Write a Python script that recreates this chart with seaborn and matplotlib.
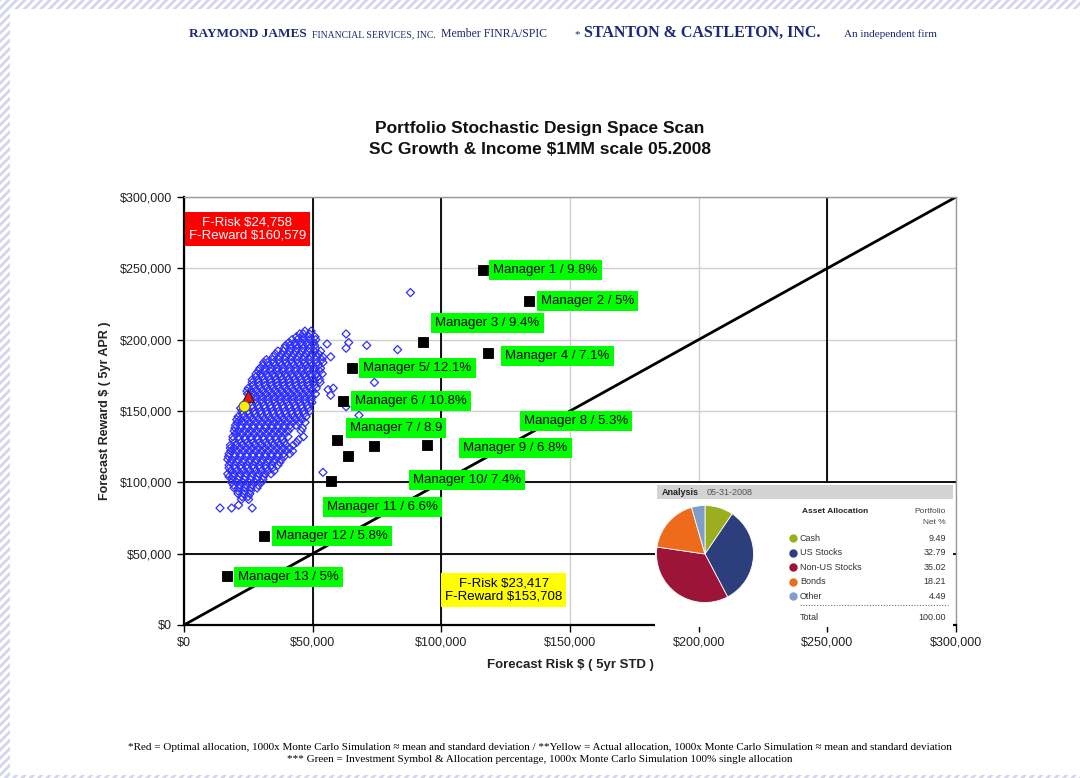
"""Portfolio stochastic design space scan (risk vs reward scatter)."""

import numpy as np
import pandas as pd
import matplotlib
matplotlib.use("Agg")
import matplotlib.pyplot as plt
import seaborn as sns
from matplotlib.patches import Rectangle
from matplotlib.lines import Line2D
from matplotlib.ticker import FuncFormatter


# ============================================================
# DATA (values in thousands of $ unless noted)
# ============================================================

# Monte Carlo cloud: (reward, [risks])
cloud_rows = [
    (206, [47.0, 49.4]),
    (204, [45.0, 46.4, 48.8]),
    (202, [43.7, 46.1, 48.5, 50.9]),
    (200, [42.0, 44.0, 46.4, 48.8, 51.2]),
    (198, [40.8, 43.2, 45.6, 48.0, 50.4]),
    (196, [39.5, 41.2, 43.6, 46.0, 48.4, 50.8]),
    (194, [39.0, 41.4, 43.8, 46.2, 48.6, 51.0]),
    (192, [36.5, 38.7, 41.1, 43.5, 45.9, 48.3, 50.7, 53.1]),
    (190, [35.5, 37.9, 40.3, 42.7, 45.1, 47.5, 49.9, 52.3]),
    (188, [34.7, 37.1, 39.5, 41.9, 44.3, 46.7, 49.1, 51.5, 53.9]),
    (186, [32.0, 34.4, 36.8, 39.2, 41.6, 44.0, 46.4, 48.8, 51.2, 53.6]),
    (184, [31.0, 32.4, 34.8, 37.2, 39.6, 42.0, 44.4, 46.8, 49.2, 51.6, 54.0]),
    (182, [30.7, 33.1, 35.5, 37.9, 40.3, 42.7, 45.1, 47.5, 49.9, 52.3]),
    (180, [29.5, 31.5, 33.9, 36.3, 38.7, 41.1, 43.5, 45.9, 48.3, 50.7, 53.1]),
    (178, [28.8, 31.2, 33.6, 36.0, 38.4, 40.8, 43.2, 45.6, 48.0, 50.4, 52.8]),
    (176, [28.0, 29.7, 32.1, 34.5, 36.9, 39.3, 41.7, 44.1, 46.5, 48.9, 51.3, 53.7]),
    (174, [28.0, 30.4, 32.8, 35.2, 37.6, 40.0, 42.4, 44.8, 47.2, 49.6, 52.0]),
    (172, [26.5, 28.7, 31.1, 33.5, 35.9, 38.3, 40.7, 43.1, 45.5, 47.9, 50.3, 52.7]),
    (170, [26.5, 28.9, 31.3, 33.7, 36.1, 38.5, 40.9, 43.3, 45.7, 48.1, 50.5, 52.9]),
    (168, [26.7, 29.1, 31.5, 33.9, 36.3, 38.7, 41.1, 43.5, 45.9, 48.3, 50.7]),
    (166, [25.0, 27.4, 29.8, 32.2, 34.6, 37.0, 39.4, 41.8, 44.2, 46.6, 49.0, 51.4]),
    (164, [24.5, 25.9, 28.3, 30.7, 33.1, 35.5, 37.9, 40.3, 42.7, 45.1, 47.5, 49.9]),
    (162, [24.7, 27.1, 29.5, 31.9, 34.3, 36.7, 39.1, 41.5, 43.9, 46.3, 48.7, 51.1]),
    (160, [26.0, 28.0, 30.4, 32.8, 35.2, 37.6, 40.0, 42.4, 44.8, 47.2, 49.6]),
    (158, [25.3, 27.7, 30.1, 32.5, 34.9, 37.3, 39.7, 42.1, 44.5, 46.9, 49.3]),
    (156, [24.0, 25.7, 28.1, 30.5, 32.9, 35.3, 37.7, 40.1, 42.5, 44.9, 47.3, 49.7]),
    (154, [24.0, 26.4, 28.8, 31.2, 33.6, 36.0, 38.4, 40.8, 43.2, 45.6, 48.0]),
    (152, [22.0, 24.2, 26.6, 29.0, 31.4, 33.8, 36.2, 38.6, 41.0, 43.4, 45.8, 48.2]),
    (150, [22.5, 24.9, 27.3, 29.7, 32.1, 34.5, 36.9, 39.3, 41.7, 44.1, 46.5, 48.9]),
    (148, [22.7, 25.1, 27.5, 29.9, 32.3, 34.7, 37.1, 39.5, 41.9, 44.3, 46.7]),
    (146, [21.0, 23.4, 25.8, 28.2, 30.6, 33.0, 35.4, 37.8, 40.2, 42.6, 45.0, 47.4]),
    (144, [20.5, 21.9, 24.3, 26.7, 29.1, 31.5, 33.9, 36.3, 38.7, 41.1, 43.5, 45.9]),
    (142, [20.7, 23.1, 25.5, 27.9, 30.3, 32.7, 35.1, 37.5, 39.9, 42.3, 44.7, 47.1]),
    (140, [20.0, 22.0, 24.4, 26.8, 29.2, 31.6, 34.0, 36.4, 38.8, 41.2, 43.6]),
    (138, [19.8, 22.2, 24.6, 27.0, 29.4, 31.8, 34.2, 36.6, 39.0, 41.4, 46.0]),
    (136, [19.5, 21.2, 23.6, 26.0, 28.4, 30.8, 33.2, 35.6, 38.0, 40.4, 45.5]),
    (134, [20.0, 22.4, 24.8, 27.2, 29.6, 32.0, 34.4, 36.8, 39.2]),
    (132, [19.0, 21.2, 23.6, 26.0, 28.4, 30.8, 33.2, 35.6, 38.0, 40.4, 46.4]),
    (130, [19.0, 21.4, 23.8, 26.2, 28.6, 31.0, 33.4, 35.8, 38.2, 44.6]),
    (128, [19.7, 22.1, 24.5, 26.9, 29.3, 31.7, 34.1, 36.5, 38.9, 43.8]),
    (126, [18.0, 20.4, 22.8, 25.2, 27.6, 30.0, 32.4, 34.8, 37.2, 39.6, 42.4]),
    (124, [18.0, 19.4, 21.8, 24.2, 26.6, 29.0, 31.4, 33.8, 36.2, 38.6, 41.0]),
    (122, [18.2, 20.6, 23.0, 25.4, 27.8, 30.2, 32.6, 35.0, 37.4, 39.8, 42.2]),
    (120, [17.5, 19.5, 21.9, 24.3, 26.7, 29.1, 31.5, 33.9, 36.3, 38.7, 41.1]),
    (118, [17.3, 19.7, 22.1, 24.5, 26.9, 29.3, 31.7, 34.1, 36.5, 38.9]),
    (116, [17.0, 18.7, 21.1, 23.5, 25.9, 28.3, 30.7, 33.1, 35.5, 37.9]),
    (114, [18.0, 20.4, 22.8, 25.2, 27.6, 30.0, 32.4, 34.8, 37.2]),
    (112, [17.5, 19.7, 22.1, 24.5, 26.9, 29.3, 31.7, 34.1, 36.5]),
    (110, [17.5, 19.9, 22.3, 24.7, 27.1, 29.5, 31.9, 34.3]),
    (108, [18.2, 20.6, 23.0, 25.4, 27.8, 30.2, 32.6, 35.0]),
    (106, [17.0, 19.4, 21.8, 24.2, 26.6, 29.0, 31.4, 33.8]),
    (104, [17.5, 18.9, 21.3, 23.7, 26.1, 28.5, 30.9]),
    (102, [18.7, 21.1, 23.5, 25.9, 28.3, 30.7]),
    (100, [18.5, 20.5, 22.9, 25.3, 27.7, 30.1]),
    (98, [19.3, 21.7, 24.1, 26.5, 28.9]),
    (96, [19.5, 21.2, 23.6, 26.0, 28.4]),
    (94, [21.0, 23.4, 25.8]),
    (92, [21.0, 23.2, 25.6]),
    (90, [22.5, 24.9]),
    (88, [22.3, 25.1]),
    (84, [21.2]),
    (82, [14, 18.5, 26.5]),
]

# stray simulation points outside the main cloud
outlier_risk = [88, 63, 64, 63, 71, 83, 55.6, 57, 74, 56, 58, 57, 63, 68, 54]
outlier_reward = [233, 204, 198, 194, 196, 193, 197, 188, 170, 165, 166, 161, 153, 147, 107]

manager_labels = [
    "Manager 1 / 9.8%", "Manager 2 / 5%", "Manager 3 / 9.4%", "Manager 4 / 7.1%",
    "Manager 5/ 12.1%", "Manager 6 / 10.8%", "Manager 7 / 8.9", "Manager 8 / 5.3%",
    "Manager 9 / 6.8%", "Manager 10/ 7.4%", "Manager 11 / 6.6%", "Manager 12 / 5.8%",
    "Manager 13 / 5%",
]
manager_risk = [116.3, 133.9, 93.0, 118.3, 65.4, 61.8, 59.5, 73.9, 94.6, 63.8, 57.2, 31.1, 16.7]
manager_reward = [248.8, 227.0, 198.3, 190.6, 180.0, 157.0, 129.6, 125.4, 126.1, 118.4, 100.9, 62.4, 34.3]

# optimal (red) and actual (yellow) allocations, in $
opt_risk, opt_reward = 24758, 160579
act_risk, act_reward = 23417, 153708

alloc_labels = ["Cash", "US Stocks", "Non-US Stocks", "Bonds", "Other"]
alloc_values = [9.49, 32.79, 35.02, 18.21, 4.49]
alloc_total = 100.00

tick_values = [0, 50000, 100000, 150000, 200000, 250000, 300000]

# ============================================================
# STYLE / LAYOUT
# ============================================================

alloc_colors = ["#9cad1e", "#2c3e7c", "#9c1438", "#ee6b1c", "#7f9dc9"]
# label offsets in pixels from each manager square (dx, dy-up)
label_offsets = [(10, 0), (12, 0), (12, 19), (17, -3), (11, 0), (12, 0), (13, 12),
                 (150, 25), (36, -3), (65, -24), (-4, -26), (12, 0), (11, -1)]

W, H = 1080, 778
navy = "#1c2878"
serif = ["Liberation Serif", "DejaVu Serif"]


def fx(px):
    return px / W


def fy(py):
    return 1 - py / H


sns.set_theme(style="white")
plt.rcParams["font.family"] = ["Liberation Sans", "DejaVu Sans"]
plt.rcParams["hatch.linewidth"] = 2.0

fig = plt.figure(figsize=(W / 100, H / 100), dpi=100)
fig.patch.set_facecolor("white")

# lavender hatched page border
for rect in [(0, fy(9), 1, 9 / H), (0, 0, 10 / W, 1), (0, 0, 1, 3 / H)]:
    fig.add_artist(Rectangle(rect[:2], rect[2], rect[3], transform=fig.transFigure,
                             fc="white", ec="#d4d4ee", hatch="////", lw=0))

# header line
header_parts = [
    (189, "RAYMOND JAMES", 9.5, "bold"),
    (312, "FINANCIAL SERVICES, INC.", 7, "normal"),
    (441, "Member FINRA/SPIC", 8.5, "normal"),
    (574, "*", 8, "normal"),
    (584, "STANTON & CASTLETON, INC.", 11.5, "bold"),
    (844, "An independent firm", 8, "normal"),
]
for px, txt, size, weight in header_parts:
    fig.text(fx(px), fy(37), txt, fontsize=size, weight=weight, family=serif,
             color=navy, va="baseline", ha="left")

fig.text(0.5, fy(128), "Portfolio Stochastic Design Space Scan", ha="center", va="center",
         fontsize=12.5, weight="bold", color="#111")
fig.text(0.5, fy(149), "SC Growth & Income $1MM scale 05.2008", ha="center", va="center",
         fontsize=12.5, weight="bold", color="#111")

# ============================================================
# MAIN SCATTER
# ============================================================

ax = fig.add_axes([fx(184), fy(625), (956 - 184) / W, (625 - 197) / H])

cloud_risk, cloud_reward = [], []
for reward, risks in cloud_rows:
    cloud_risk += risks
    cloud_reward += [reward] * len(risks)
cloud = pd.DataFrame({
    "risk": np.array(cloud_risk + outlier_risk) * 1000,
    "reward": np.array(cloud_reward + outlier_reward) * 1000,
})
managers = pd.DataFrame({
    "label": manager_labels,
    "risk": np.array(manager_risk) * 1000,
    "reward": np.array(manager_reward) * 1000,
})

ax.set_xlim(0, 300000)
ax.set_ylim(0, 300000)
ax.set_xticks(tick_values)
ax.set_yticks(tick_values)
ax.grid(True, color="#cfcfcf", lw=1)
ax.set_axisbelow(True)
for v in [50000, 100000, 250000]:
    ax.axvline(v, color="black", lw=1.3, zorder=1.5)
for v in [50000, 100000]:
    ax.axhline(v, color="black", lw=1.3, zorder=1.5)
ax.axline((0, 0), slope=1, color="black", lw=2, zorder=2)

sns.scatterplot(data=cloud, x="risk", y="reward", marker="D", s=17,
                facecolor="none", edgecolor="#2f2fff", linewidth=0.9, ax=ax, zorder=3)
sns.scatterplot(data=managers, x="risk", y="reward", marker="s", s=60,
                color="black", edgecolor="black", ax=ax, zorder=5)
sns.scatterplot(x=[opt_risk], y=[opt_reward], marker="^", s=70, color="#ee1111",
                edgecolor="#222", linewidth=0.8, ax=ax, zorder=6)
sns.scatterplot(x=[act_risk], y=[act_reward], marker="o", s=60, color="#ffee00",
                edgecolor="#555", linewidth=0.8, ax=ax, zorder=6)

for (i, row), (dx, dy) in zip(managers.iterrows(), label_offsets):
    ax.annotate(row["label"], (row["risk"], row["reward"]), xytext=(dx, dy),
                textcoords="offset pixels", ha="left", va="center", fontsize=9.5,
                color="black", zorder=7,
                bbox=dict(boxstyle="square,pad=0.3", fc="#00ff00", ec="none"))

ax.text(0.082, 0.925, f"F-Risk ${opt_risk:,}\nF-Reward ${opt_reward:,}",
        transform=ax.transAxes, ha="center", va="center", color="white",
        fontsize=9.5, linespacing=1.15, zorder=7,
        bbox=dict(boxstyle="square,pad=0.3", fc="#ff0000", ec="none"))
ax.text(0.414, 0.082, f"F-Risk ${act_risk:,}\nF-Reward ${act_reward:,}",
        transform=ax.transAxes, ha="center", va="center", color="black",
        fontsize=9.5, linespacing=1.15, zorder=7,
        bbox=dict(boxstyle="square,pad=0.3", fc="#ffff00", ec="none"))

money = FuncFormatter(lambda v, p: f"${v:,.0f}")
ax.xaxis.set_major_formatter(money)
ax.yaxis.set_major_formatter(money)
ax.tick_params(axis="both", direction="out", length=5, width=1, color="black",
               labelsize=9, labelcolor="#222", bottom=True, left=True)
for side in ["left", "bottom"]:
    ax.spines[side].set_color("black")
    ax.spines[side].set_linewidth(1.6)
for side in ["top", "right"]:
    ax.spines[side].set_color("#9a9a9a")
    ax.spines[side].set_linewidth(1)
ax.set_xlabel("Forecast Risk $ ( 5yr STD )", fontsize=9.5, weight="bold", color="#222", labelpad=7)
ax.set_ylabel("Forecast Reward $ ( 5yr APR )", fontsize=9, weight="bold", color="#222", labelpad=6)

# ============================================================
# ASSET ALLOCATION INSET
# ============================================================

panel = fig.add_axes([fx(655), fy(627), 298 / W, 144 / H], zorder=10)
panel.set_xlim(655, 953)
panel.set_ylim(627, 483)
panel.axis("off")
panel.add_patch(Rectangle((655, 483), 298, 144, fc="white", ec="none"))
panel.add_patch(Rectangle((657, 485), 296, 14, fc="#d3d3d3", ec="none"))
panel.text(662, 492, "Analysis", weight="bold", fontsize=6.5, va="center", color="#222")
panel.text(707, 492, "05-31-2008", fontsize=6.5, va="center", color="#555")
panel.text(802, 511, "Asset Allocation", weight="bold", fontsize=6, va="center", color="#222")
panel.text(946, 511, "Portfolio", fontsize=6, va="center", ha="right", color="#444")
panel.text(946, 522, "Net %", fontsize=6, va="center", ha="right", color="#444")
for i, (lab, val, col) in enumerate(zip(alloc_labels, alloc_values, alloc_colors)):
    y = 538 + 14.5 * i
    panel.add_line(Line2D([793], [y], marker="o", ms=5, color=col, lw=0))
    panel.text(800, y, lab, fontsize=6.5, va="center", color="#333")
    panel.text(946, y, f"{val:.2f}", fontsize=6.5, va="center", ha="right", color="#333")
panel.plot([800, 948], [605, 605], color="#777", lw=0.8, ls=(0, (1, 1.5)))
panel.text(800, 617, "Total", fontsize=6.5, va="center", color="#333")
panel.text(946, 617, f"{alloc_total:.2f}", fontsize=6.5, va="center", ha="right", color="#333")

pie_ax = fig.add_axes([fx(656), fy(603), 98 / W, 98 / H], zorder=11)
pie_ax.pie(alloc_values, colors=alloc_colors, startangle=90, counterclock=False,
           wedgeprops=dict(edgecolor="white", linewidth=0.6))
pie_ax.set_xlim(-1.01, 1.01)
pie_ax.set_ylim(-1.01, 1.01)
pie_ax.set_aspect("equal")

# ============================================================
# FOOTNOTES
# ============================================================

fig.text(0.5, fy(747),
         "*Red = Optimal allocation, 1000x Monte Carlo Simulation \u2248 mean and standard deviation / "
         "**Yellow = Actual allocation, 1000x Monte Carlo Simulation \u2248 mean and standard deviation",
         ha="center", va="center", fontsize=8, family=serif, color="black")
fig.text(0.5, fy(760),
         "*** Green = Investment Symbol & Allocation percentage, 1000x Monte Carlo Simulation "
         "100% single allocation",
         ha="center", va="center", fontsize=8, family=serif, color="black")

fig.savefig("out.png", dpi=100)
plt.close(fig)
